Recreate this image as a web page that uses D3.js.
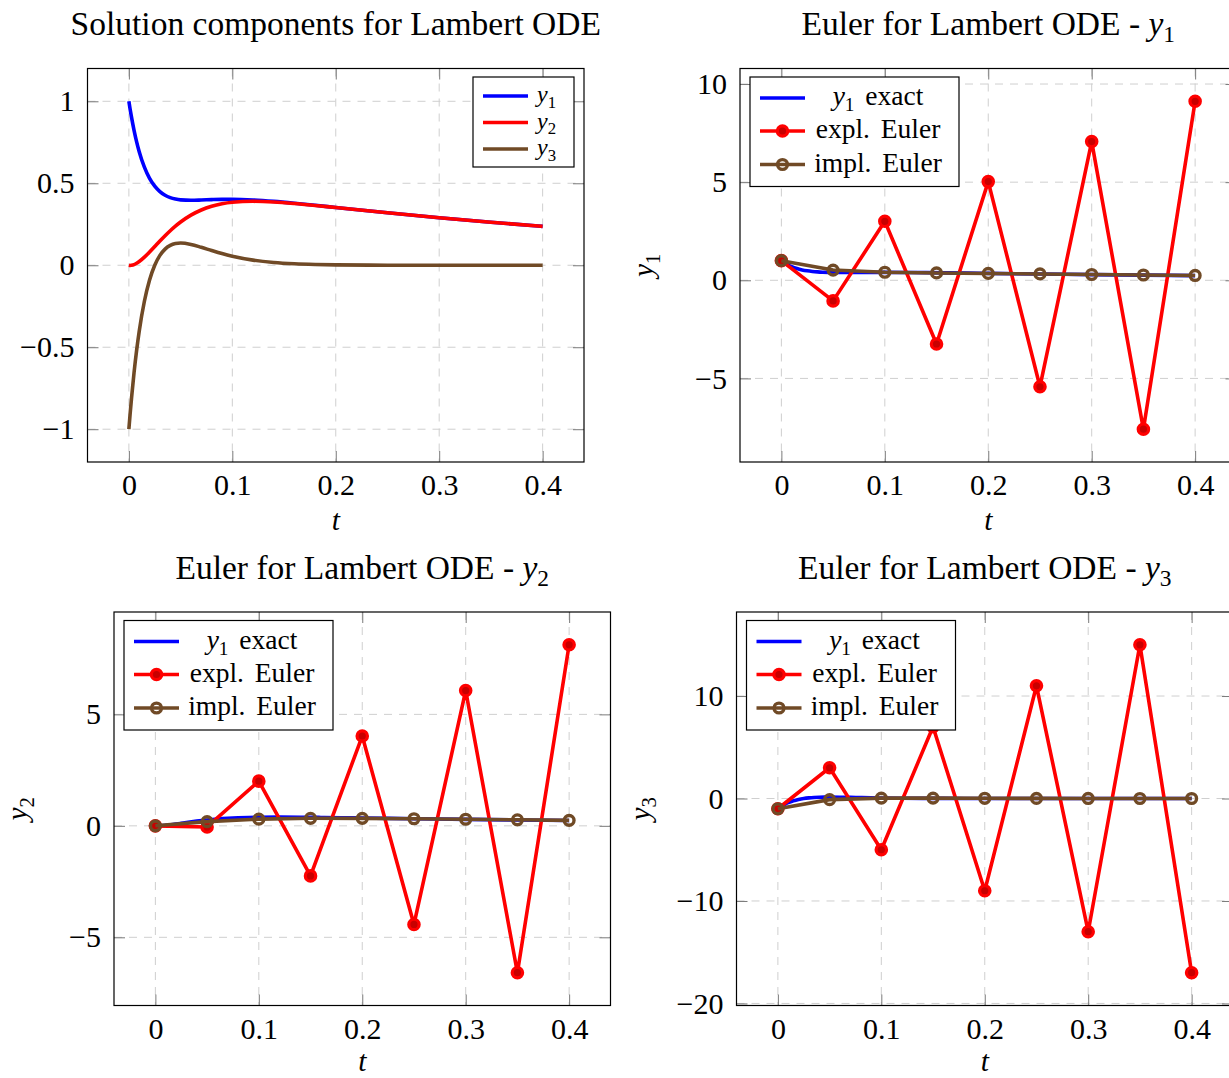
<!DOCTYPE html>
<html>
<head>
<meta charset="utf-8">
<script src="https://cdn.jsdelivr.net/npm/d3@7"></script>
<style>
  body { margin: 0; background: #fff; }
  svg { display: block; }
  svg text { font-family: "Liberation Serif", "DejaVu Serif", serif; }
</style>
</head>
<body>
<svg id="fig" width="1229" height="1078"></svg>
<script>
// Reference (exact) solution of the Lambert test problem, fine time grid
const tFine = [0, 0.00125, 0.0025, 0.005, 0.0075, 0.01, 0.015, 0.02, 0.025, 0.03, 0.035, 0.04, 0.045,
  0.05, 0.06, 0.07, 0.08, 0.09, 0.1, 0.12, 0.14, 0.16, 0.18, 0.2, 0.25, 0.3, 0.35, 0.4];
const exactY1 = [1, 0.9501, 0.9048, 0.8230, 0.7528, 0.6927, 0.5980, 0.5300, 0.4821, 0.4490, 0.4268, 0.4125, 0.4038,
  0.3989, 0.3963, 0.3979, 0.4003, 0.4019, 0.4021, 0.3982, 0.3897, 0.3784, 0.3657, 0.3525, 0.3199, 0.2896, 0.2620, 0.2371];
const exactY2 = [0, -0.0011, 0.0000, 0.0042, 0.0119, 0.0224, 0.0492, 0.0807, 0.1142, 0.1478, 0.1802, 0.2106, 0.2385,
  0.2636, 0.3056, 0.3371, 0.3595, 0.3746, 0.3838, 0.3900, 0.3860, 0.3767, 0.3649, 0.3521, 0.3198, 0.2896, 0.2620, 0.2371];
const exactY3 = [-1, -0.9037, -0.8144, -0.6550, -0.5186, -0.4022, -0.2195, -0.0899, 0, 0.0602, 0.0986, 0.1211, 0.1322,
  0.1353, 0.1270, 0.1095, 0.0897, 0.0710, 0.0549, 0.0313, 0.0170, 0.0090, 0.0046, 0.0023, 0.0004, 0.0001, 0, 0];

// Euler iterates, step size h = 0.05
const tStep = [0, 0.05, 0.1, 0.15, 0.2, 0.25, 0.3, 0.35, 0.4];
const explY1 = [1, -1.05, 3.005, -3.2455, 5.0291, -5.4239, 7.0685, -7.5883, 9.1205];
const explY2 = [0, -0.05, 2.005, -2.2455, 4.0291, -4.4239, 6.0685, -6.5883, 8.1205];
const explY3 = [-1, 3, -5, 7, -9, 11, -13, 15, -17];
const implY1 = [1, 0.5202, 0.4106, 0.3750, 0.3489, 0.3224, 0.2956, 0.2699, 0.2458];
const implY2 = [0, 0.1869, 0.2995, 0.3379, 0.3366, 0.3183, 0.2943, 0.2694, 0.2457];
const implY3 = [-1, -0.1111, 0.0370, 0.0370, 0.0206, 0.0096, 0.0041, 0.0017, 0.0007];

// Tick values
const xTicks = [0, 0.1, 0.2, 0.3, 0.4];
const yTicksSol = [-1, -0.5, 0, 0.5, 1];
const yTicksY1 = [-5, 0, 5, 10];
const yTicksY2 = [-5, 0, 5];
const yTicksY3 = [-20, -10, 0, 10];

const BLUE = "#0000ff", RED = "#ff0000", BROWN = "#704a26";
const FONT = "Liberation Serif, DejaVu Serif, serif";
const PW = 496.5, PH = 393.5;
const TICK_FS = 30, LEG_FS = 27.5, TITLE_FS = 33.5, LABEL_FS = 29.5;
const LINE_W = 3.6;

const svg = d3.select("#fig");
const fmt = d3.format("~g");
const zip = (xs, ys) => xs.map((v, i) => [v, ys[i]]);
const enlarge = ([a, b]) => [a - 0.1 * (b - a), b + 0.1 * (b - a)];

// Text with italic symbols and subscripts
function mathText(sel, parts, size) {
  sel.attr("font-family", FONT);
  let shifted = 0;
  parts.forEach(p => {
    const ts = sel.append("tspan").text(p.t);
    let dy = 0;
    if (p.sub) {
      dy = size * 0.22 - shifted; shifted = size * 0.22;
      ts.attr("font-size", size * 0.7);
    } else if (shifted) {
      dy = -shifted; shifted = 0;
    }
    if (dy) ts.attr("dy", dy);
    if (p.it) ts.attr("font-style", "italic");
  });
}

function styleAxis(g) {
  g.attr("font-size", TICK_FS).attr("font-family", FONT);
  g.select(".domain").remove();
  g.selectAll(".tick line").attr("stroke", "#7a7a7a").attr("stroke-width", 1);
  g.selectAll(".tick text").attr("fill", "#000");
}

let clipCount = 0;
function panel(cfg) {
  const g = svg.append("g").attr("transform", `translate(${cfg.x0},${cfg.y0})`);
  const x = d3.scaleLinear().domain(enlarge([0, 0.4])).range([0, PW]);
  const allY = cfg.series.flatMap(s => s.ys);
  const y = d3.scaleLinear().domain(enlarge(d3.extent(allY))).range([PH, 0]);

  // dashed grid
  const grid = g.append("g").attr("stroke", "#cfcfcf").attr("stroke-width", 1)
    .attr("stroke-dasharray", "8,7");
  grid.selectAll(".gx").data(xTicks).join("line")
    .attr("x1", d => x(d)).attr("x2", d => x(d)).attr("y1", 0).attr("y2", PH);
  grid.selectAll(".gy").data(cfg.yTicks).join("line")
    .attr("y1", d => y(d)).attr("y2", d => y(d)).attr("x1", 0).attr("x2", PW);

  // inward ticks on all four sides, labels bottom and left
  g.append("g").attr("transform", `translate(0,${PH})`)
    .call(d3.axisBottom(x).tickValues(xTicks).tickFormat(fmt).tickSizeInner(-11).tickSizeOuter(0).tickPadding(12))
    .call(styleAxis);
  g.append("g")
    .call(d3.axisTop(x).tickValues(xTicks).tickFormat("").tickSizeInner(-11).tickSizeOuter(0))
    .call(styleAxis);
  g.append("g")
    .call(d3.axisLeft(y).tickValues(cfg.yTicks).tickFormat(fmt).tickSizeInner(-11).tickSizeOuter(0).tickPadding(13))
    .call(styleAxis);
  g.append("g").attr("transform", `translate(${PW},0)`)
    .call(d3.axisRight(y).tickValues(cfg.yTicks).tickFormat("").tickSizeInner(-11).tickSizeOuter(0))
    .call(styleAxis);

  // plotted series, clipped to the axis box
  const cid = "clip" + (clipCount++);
  g.append("clipPath").attr("id", cid).append("rect").attr("width", PW).attr("height", PH);
  const plot = g.append("g").attr("clip-path", `url(#${cid})`);
  cfg.series.forEach(s => {
    const pts = zip(s.ts, s.ys);
    const line = d3.line().x(d => x(d[0])).y(d => y(d[1]))
      .curve(s.smooth ? d3.curveMonotoneX : d3.curveLinear);
    plot.append("path").datum(pts).attr("d", line)
      .attr("fill", "none").attr("stroke", s.color).attr("stroke-width", LINE_W)
      .attr("stroke-linejoin", "round");
    if (s.mark) {
      plot.append("g").selectAll("circle").data(pts).join("circle")
        .attr("cx", d => x(d[0])).attr("cy", d => y(d[1]))
        .call(markStyle, s.mark);
    }
  });

  // axis frame
  g.append("rect").attr("width", PW).attr("height", PH)
    .attr("fill", "none").attr("stroke", "#000").attr("stroke-width", 1.2);

  // title and axis labels
  mathText(g.append("text").attr("x", PW / 2).attr("y", -33.5).attr("text-anchor", "middle")
    .attr("font-size", TITLE_FS), cfg.title, TITLE_FS);
  g.append("text").attr("x", PW / 2).attr("y", PH + cfg.tGap).attr("text-anchor", "middle")
    .attr("font-family", FONT).attr("font-size", LABEL_FS).attr("font-style", "italic").text("t");
  if (cfg.ylabel) {
    mathText(g.append("text").attr("transform", `translate(-87,${PH / 2}) rotate(-90)`)
      .attr("text-anchor", "middle").attr("font-size", LABEL_FS), cfg.ylabel, LABEL_FS);
  }

  // legend
  const L = cfg.legend;
  const lg = g.append("g").attr("transform", `translate(${L.x},${L.y})`);
  lg.append("rect").attr("width", L.w).attr("height", L.h)
    .attr("fill", "#fff").attr("stroke", "#000").attr("stroke-width", 1.2);
  cfg.series.forEach((s, i) => {
    const ry = L.rows[i];
    lg.append("line").attr("x1", 10).attr("x2", 55).attr("y1", ry).attr("y2", ry)
      .attr("stroke", s.color).attr("stroke-width", LINE_W);
    if (s.mark) lg.append("circle").attr("cx", 32.5).attr("cy", ry).call(markStyle, s.mark);
    const t = lg.append("text").attr("y", ry + L.fs * 0.26).attr("font-size", L.fs)
      .attr("x", L.textX).attr("text-anchor", L.anchor).attr("word-spacing", 4);
    mathText(t, s.label, L.fs);
  });
}

function markStyle(sel, kind) {
  if (kind === "filled") {
    sel.attr("r", 5.2).attr("fill", "#c80000").attr("stroke", RED).attr("stroke-width", 3.2);
  } else {
    sel.attr("r", 4.9).attr("fill", "none").attr("stroke", BROWN).attr("stroke-width", 3.4);
  }
}

const legSmall = { x: PW - 10 - 101, y: 8.5, w: 101, h: 90, rows: [19, 45.5, 72], textX: 64, anchor: "start", fs: 24 };
const legEuler = { x: 10, y: 8.5, w: 209, h: 109.5, rows: [21, 54, 87.5], textX: 128, anchor: "middle", fs: LEG_FS };
const labExact = [{ t: "y", it: true }, { t: "1", sub: true }, { t: " exact" }];
const labExpl = [{ t: "expl. Euler" }];
const labImpl = [{ t: "impl. Euler" }];

panel({
  x0: 87.5, y0: 68.5, yTicks: yTicksSol, tGap: 68,
  title: [{ t: "Solution components for Lambert ODE" }],
  series: [
    { ts: tFine, ys: exactY1, color: BLUE, smooth: true, label: [{ t: "y", it: true }, { t: "1", sub: true }] },
    { ts: tFine, ys: exactY2, color: RED, smooth: true, label: [{ t: "y", it: true }, { t: "2", sub: true }] },
    { ts: tFine, ys: exactY3, color: BROWN, smooth: true, label: [{ t: "y", it: true }, { t: "3", sub: true }] }
  ],
  legend: legSmall
});

const eulerPanel = (x0, y0, k, ex, ey, iy, ticks, tGap) => panel({
  x0, y0, yTicks: ticks, tGap,
  title: [{ t: "Euler for Lambert ODE - " }, { t: "y", it: true }, { t: String(k), sub: true }],
  ylabel: [{ t: "y", it: true }, { t: String(k), sub: true }],
  series: [
    { ts: tFine, ys: ex, color: BLUE, smooth: true, label: labExact },
    { ts: tStep, ys: ey, color: RED, mark: "filled", label: labExpl },
    { ts: tStep, ys: iy, color: BROWN, mark: "open", label: labImpl }
  ],
  legend: legEuler
});

eulerPanel(740, 68.5, 1, exactY1, explY1, implY1, yTicksY1, 68);
eulerPanel(114, 612, 2, exactY2, explY2, implY2, yTicksY2, 65);
eulerPanel(736.5, 612, 3, exactY3, explY3, implY3, yTicksY3, 65);
</script>
</body>
</html>
